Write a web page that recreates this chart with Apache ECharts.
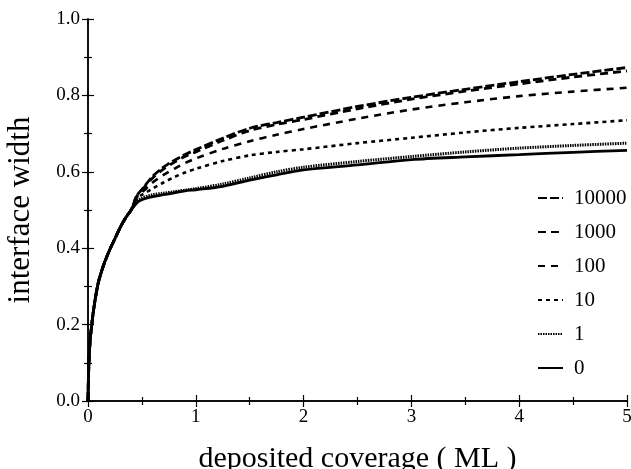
<!DOCTYPE html>
<html><head><meta charset="utf-8">
<script src="https://cdn.jsdelivr.net/npm/echarts@6/dist/echarts.min.js"></script>
<style>html,body{margin:0;padding:0;background:#fff}#c{width:631px;height:469px}</style>
</head><body><div id="c"></div>
<script>
const coverage = [0, 0.005, 0.01, 0.02, 0.035, 0.05, 0.075, 0.1, 0.15, 0.2, 0.25, 0.3, 0.35, 0.4, 0.45, 0.5, 0.6, 0.7, 0.8, 0.9, 1.0, 1.25, 1.5, 1.75, 2.0, 2.5, 3.0, 3.5, 4.0, 4.5, 5.0];
const common = [0, 0.07, 0.11, 0.16, 0.2, 0.235, 0.28, 0.315, 0.36, 0.395, 0.425, 0.455, 0.48, 0.50];
const w10000 = common.concat([0.536, 0.554, 0.588, 0.612, 0.630, 0.645, 0.658, 0.688, 0.714, 0.729, 0.743, 0.771, 0.795, 0.816, 0.836, 0.855, 0.873]);
const w1000  = common.concat([0.535, 0.552, 0.584, 0.607, 0.625, 0.640, 0.652, 0.682, 0.708, 0.724, 0.737, 0.765, 0.790, 0.811, 0.830, 0.848, 0.864]);
const w100   = common.concat([0.532, 0.546, 0.572, 0.592, 0.608, 0.623, 0.635, 0.660, 0.680, 0.697, 0.712, 0.739, 0.763, 0.782, 0.798, 0.810, 0.820]);
const w10    = common.concat([0.528, 0.540, 0.556, 0.572, 0.586, 0.598, 0.608, 0.628, 0.643, 0.652, 0.659, 0.675, 0.689, 0.703, 0.715, 0.725, 0.735]);
const w1     = common.concat([0.522, 0.531, 0.540, 0.544, 0.548, 0.552, 0.556, 0.568, 0.584, 0.600, 0.612, 0.627, 0.640, 0.652, 0.662, 0.669, 0.675]);
const w0     = common.concat([0.518, 0.527, 0.535, 0.540, 0.545, 0.550, 0.553, 0.562, 0.578, 0.592, 0.605, 0.618, 0.632, 0.639, 0.645, 0.651, 0.656]);
const seriesNames = ['10000', '1000', '100', '10', '1', '0'];
const seriesValues = [w10000, w1000, w100, w10, w1, w0];
const xTicks = ['0', '1', '2', '3', '4', '5'];
const yTicks = ['0.0', '0.2', '0.4', '0.6', '0.8', '1.0'];

const styles = [
  {width: 2.8, type: [9, 3]},
  {width: 2.8, type: [8, 5]},
  {width: 2.6, type: [7, 6]},
  {width: 2.6, type: [4, 4]},
  {width: 3, type: [1.5, 1]},
  {width: 2.8, type: 'solid'}
];
const font = 'Liberation Serif';
const chart = echarts.init(document.getElementById('c'), null, {renderer: 'canvas'});
const axisCommon = {
  axisLine: {show: true, lineStyle: {color: '#000', width: 1.5}},
  axisTick: {show: true, inside: true, length: 6, lineStyle: {color: '#000', width: 1.2}},
  minorTick: {show: true, splitNumber: 2, length: 4, lineStyle: {color: '#000', width: 1.2}},
  splitLine: {show: false}
};
chart.setOption({
  animation: false,
  backgroundColor: '#fff',
  grid: {left: 88, right: 4, top: 19, bottom: 68, containLabel: false, outerBoundsMode: 'none'},
  legend: {
    orient: 'vertical', left: 532, top: 181, itemGap: 10, itemWidth: 25, itemHeight: 24,
    data: seriesNames,
    itemStyle: {opacity: 0},
    textStyle: {fontFamily: font, fontSize: 21, color: '#000', lineHeight: 24, padding: [0, 0, 0, 6]},
    selectedMode: false
  },
  xAxis: [
    Object.assign({
      type: 'value', min: 0, max: 5, interval: 1, position: 'bottom',
      name: 'deposited coverage ( ML )', nameLocation: 'middle', nameGap: 43,
      nameTextStyle: {fontFamily: font, fontSize: 30, color: '#000'},
      axisLabel: {fontFamily: font, fontSize: 19, color: '#000', margin: 7,
        formatter: v => xTicks[Math.round(v)]}
    }, axisCommon),
    Object.assign({
      type: 'value', min: 0, max: 5, interval: 1, position: 'top',
      axisLabel: {show: false}
    }, axisCommon)
  ],
  yAxis: [
    Object.assign({
      type: 'value', min: 0, max: 1, interval: 0.2, position: 'left',
      name: 'interface width', nameLocation: 'middle', nameGap: 52,
      nameTextStyle: {fontFamily: font, fontSize: 31, color: '#000'},
      axisLabel: {fontFamily: font, fontSize: 19, color: '#000', margin: 8,
        formatter: v => yTicks[Math.round(v * 5)]}
    }, axisCommon),
    Object.assign({
      type: 'value', min: 0, max: 1, interval: 0.2, position: 'right',
      axisLabel: {show: false}
    }, axisCommon)
  ],
  series: seriesNames.map((n, i) => ({
    name: n, type: 'line', xAxisIndex: 0, yAxisIndex: 0,
    showSymbol: false, symbol: 'none', smooth: 0.3,
    data: coverage.map((x, j) => [x, seriesValues[i][j]]),
    lineStyle: {color: '#000', width: styles[i].width, type: styles[i].type},
    itemStyle: {color: '#000'}
  }))
});
</script></body></html>
